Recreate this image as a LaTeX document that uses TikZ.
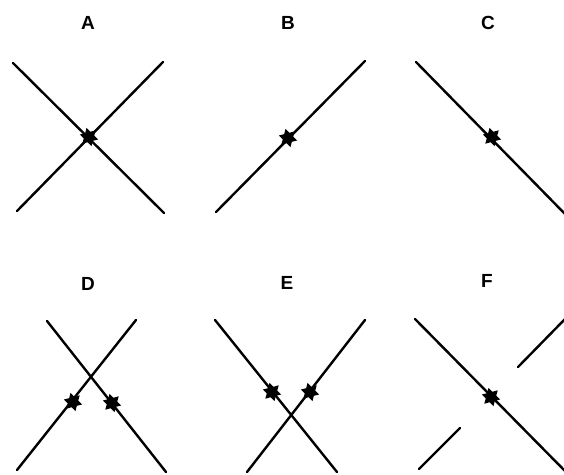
\documentclass[tikz,border=0pt]{standalone}
\usepackage{fontspec}
\setmainfont{Liberation Sans}
\usetikzlibrary{shapes.geometric}

\begin{document}
\begin{tikzpicture}[x=1pt, y=-1pt,
      lbl/.style={font=\fontsize{19}{19}\selectfont\bfseries, inner sep=0pt},
      ln/.style={line width=2.4pt, black, line cap=round},
      spot/.style={star, star points=6, star point ratio=1.75, fill=black,
                 minimum size=19pt, inner sep=0pt, rotate=15}]
    \useasboundingbox (0,0) rectangle (564,474);
    % labels
    \node[lbl] (lA) at (88,23)  {A};
    \node[lbl] (lB) at (288,23) {B};
    \node[lbl] (lC) at (488,23) {C};
    \node[lbl] (lD) at (88,284) {D};
    \node[lbl] (lE) at (287,283) {E};
    \node[lbl] (lF) at (487,281) {F};
    % A
    \coordinate (a1) at (13,63);  \coordinate (a2) at (164,213);
    \coordinate (a3) at (163,62); \coordinate (a4) at (17,211);
    \draw[ln] (a1) -- (a2);
    \draw[ln] (a3) -- (a4);
    \node[spot] (sA) at (89,137) {};
    % B
    \coordinate (b1) at (365,61); \coordinate (b2) at (216,212);
    \draw[ln] (b1) -- (b2);
    \node[spot] (sB) at (288,138) {};
    % C
    \coordinate (c1) at (416,62); \coordinate (c2) at (566,215);
    \draw[ln] (c1) -- (c2);
    \node[spot] (sC) at (492,137) {};
    % D
    \coordinate (d1) at (47,321);  \coordinate (d2) at (166,472);
    \coordinate (d3) at (136,320); \coordinate (d4) at (17,470);
    \draw[ln] (d1) -- (d2);
    \draw[ln] (d3) -- (d4);
    \node[spot] (sD1) at (73,402) {};
    \node[spot] (sD2) at (112,403) {};
    % E
    \coordinate (e1) at (215,320); \coordinate (e2) at (337,472);
    \coordinate (e3) at (365,320); \coordinate (e4) at (247,472);
    \draw[ln] (e1) -- (e2);
    \draw[ln] (e3) -- (e4);
    \node[spot] (sE1) at (272,392) {};
    \node[spot] (sE2) at (310,392) {};
    % F
    \coordinate (f1) at (415,319); \coordinate (f2) at (566,472);
    \coordinate (f3) at (518,367); \coordinate (f4) at (566,318);
    \coordinate (f5) at (460,428); \coordinate (f6) at (419,469);
    \draw[ln] (f1) -- (f2);
    \draw[ln] (f3) -- (f4);
    \draw[ln] (f5) -- (f6);
    \node[spot] (sF) at (491,397) {};
\end{tikzpicture}
\end{document}
